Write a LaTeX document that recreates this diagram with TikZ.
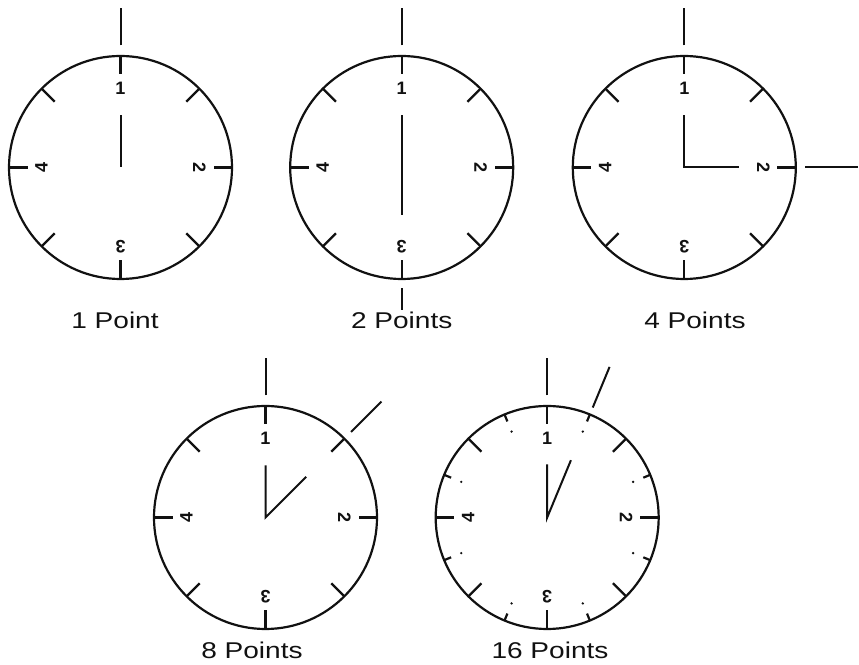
\documentclass[tikz,border=0pt]{standalone}
\usepackage{fontspec}
\setmainfont{Liberation Sans}
\newfontfamily\capfont[FakeStretch=1.23]{Liberation Sans}
\usetikzlibrary{calc}
\definecolor{ink}{HTML}{111111}

\begin{document}
\begin{tikzpicture}[x=0.5pt,y=0.5pt,
 rim/.style={draw=ink,line width=1.1pt},
 hand/.style={draw=ink,line width=1pt},
 probe/.style={draw=ink,line width=1pt},
 num/.style={font=\fontsize{9}{10}\selectfont\bfseries,text=ink,inner sep=0pt},
 caption/.style={font=\capfont\fontsize{11.4}{13}\selectfont,text=ink,inner sep=0pt},
 dial/.pic={
 \draw[rim] (0,0) circle (111.5);
 \foreach \a in {0,45,...,315}
 \draw[rim] (\a:111.5)--(\a:93);
 \foreach \a/\t in {90/1,0/2,270/3,180/4}
 \node[num,rotate=\a-90] at (\a:79) {\t};
 },
 fine/.pic={
 \foreach \a in {22.5,67.5,...,337.5}{
 \draw[rim] (\a:111.5)--(\a:104);
 \fill[ink] (\a:93) circle (1.3);}
 }]
\useasboundingbox (0,0) rectangle (859,665);
% clock centres
\coordinate (one) at (120.5,497.5);
\coordinate (two) at (401.7,497.5);
\coordinate (four) at (684.3,497.5);
\coordinate (eight) at (265.5,147.5);
\coordinate (sixteen) at (547.2,147.5);
\pic at (one) {dial};
\pic at (two) {dial};
\pic at (four) {dial};
\pic at (eight) {dial};
\pic at (sixteen) {dial};
\pic at (sixteen) {fine};
% hands
\draw[hand] ($(one)+(90:52)$)--(one);
\draw[hand] ($(two)+(90:52)$)--($(two)+(270:48)$);
\draw[hand] ($(four)+(90:52)$)--(four)--($(four)+(0:55)$);
\draw[hand] ($(eight)+(90:52)$)--(eight)--($(eight)+(45:57.5)$);
\draw[hand] ($(sixteen)+(90:53)$)--(sixteen)--($(sixteen)+(67.5:62)$);
% outside marks
\draw[probe] ($(one)+(90:122)$)--($(one)+(90:159)$);
\draw[probe] ($(two)+(90:122)$)--($(two)+(90:159)$);
\draw[probe] ($(two)+(270:121)$)--($(two)+(270:143)$);
\draw[probe] ($(four)+(90:122)$)--($(four)+(90:159)$);
\draw[probe] ($(four)+(0:121)$)--($(four)+(0:174)$);
\draw[probe] ($(eight)+(90:122)$)--($(eight)+(90:159)$);
\draw[probe] ($(eight)+(45:121)$)--($(eight)+(45:164)$);
\draw[probe] ($(sixteen)+(90:122)$)--($(sixteen)+(90:159)$);
\draw[probe] ($(sixteen)+(67.5:119)$)--($(sixteen)+(67.5:163)$);
% captions
\node[caption] (lone) at (115,345) {1 Point};
\node[caption] (ltwo) at (401.7,345) {2 Points};
\node[caption] (lfour) at (695,345) {4 Points};
\node[caption] (leight) at (252,15) {8 Points};
\node[caption] (lsixteen) at (550,15) {16 Points};
\end{tikzpicture}
\end{document}
